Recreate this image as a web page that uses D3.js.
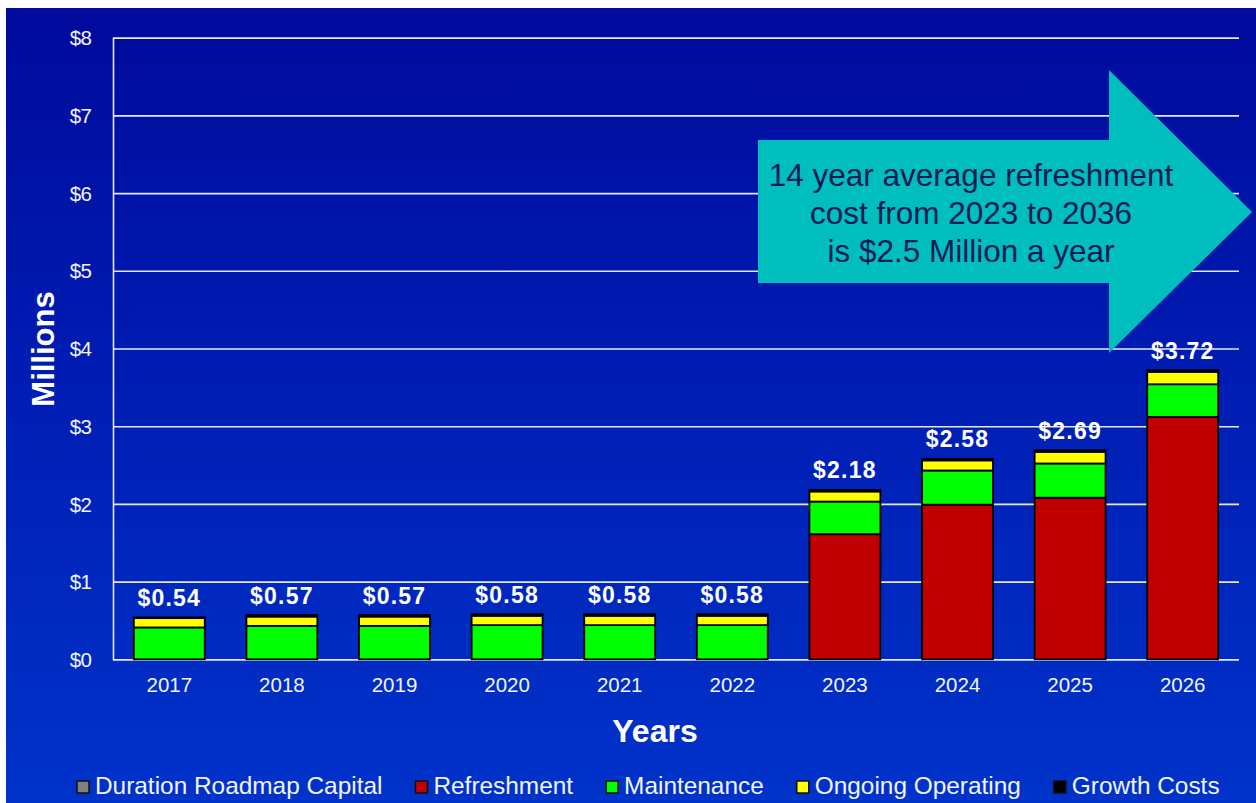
<!DOCTYPE html>
<html>
<head>
<meta charset="utf-8">
<script src="https://cdn.jsdelivr.net/npm/d3@7"></script>
<style>
  html, body { margin: 0; padding: 0; background: #ffffff; }
  svg { display: block; }
  text { font-family: "Liberation Sans", Arial, sans-serif; }
</style>
</head>
<body>
<svg id="chart" width="1256" height="803"></svg>
<script>
// ---- data ----
const years = ["2017","2018","2019","2020","2021","2022","2023","2024","2025","2026"];
const durationCapital = [0,0,0,0,0,0,0,0,0,0];
const refreshment = [0,0,0,0,0,0,1.61,1.99,2.08,3.12];
const maintenance = [0.41,0.43,0.43,0.44,0.44,0.44,0.42,0.44,0.44,0.42];
const ongoingOperating = [0.12,0.12,0.12,0.12,0.12,0.12,0.13,0.13,0.15,0.16];
const growthCosts = [0.01,0.02,0.02,0.02,0.02,0.02,0.02,0.02,0.02,0.02];
const totalLabels = ["$0.54","$0.57","$0.57","$0.58","$0.58","$0.58","$2.18","$2.58","$2.69","$3.72"];
const yTicks = [0,1,2,3,4,5,6,7,8];
const seriesNames = ["Duration Roadmap Capital","Refreshment","Maintenance","Ongoing Operating","Growth Costs"];
const seriesColors = ["#808080","#C00000","#00FF00","#FFFF00","#000000"];
const annotationLines = ["14 year average refreshment","cost from 2023 to 2036","is $2.5 Million a year"];

// ---- layout ----
const W = 1256, H = 803;
const plot = {left: 113, right: 1239, top: 37.7, bottom: 659.3};
const svg = d3.select("#chart");

// background with gradient
const defs = svg.append("defs");
const grad = defs.append("linearGradient").attr("id","bg").attr("x1",0).attr("y1",0).attr("x2",0).attr("y2",1);
grad.append("stop").attr("offset","0%").attr("stop-color","#000A9C");
grad.append("stop").attr("offset","50%").attr("stop-color","#001EB4");
grad.append("stop").attr("offset","100%").attr("stop-color","#0033CA");
svg.append("rect").attr("x",6).attr("y",8).attr("width",W-6).attr("height",H-8).attr("fill","url(#bg)");

const table = years.map((y,i)=>({
  year:y,
  "Duration Roadmap Capital":durationCapital[i],
  "Refreshment":refreshment[i],
  "Maintenance":maintenance[i],
  "Ongoing Operating":ongoingOperating[i],
  "Growth Costs":growthCosts[i],
  label: totalLabels[i]
}));

const x = d3.scaleBand().domain(years).range([plot.left, plot.right]).paddingInner(0.37).paddingOuter(0.185);
const y = d3.scaleLinear().domain([0,8]).range([plot.bottom, plot.top]);
const color = d3.scaleOrdinal().domain(seriesNames).range(seriesColors);

// gridlines
const yAxis = d3.axisLeft(y).tickValues(yTicks).tickSize(-(plot.right-plot.left)).tickFormat(d=>"$"+d);
const gy = svg.append("g").attr("transform",`translate(${plot.left},0)`).call(yAxis);
gy.attr("font-size",null).attr("font-family",null);
gy.select(".domain").attr("stroke","#E4E8F8").attr("stroke-width",1.6);
gy.selectAll(".tick line").attr("stroke","#E4E8F8").attr("stroke-width",1.6);
gy.selectAll(".tick text").attr("x",-22).attr("fill","#F2F4FF").attr("font-size",20.5)
  .attr("letter-spacing","-0.8px").attr("dy","0.35em");

// arrow annotation (on top of gridlines)
const arrowPts = [[758,140],[1109,140],[1109,70],[1252,212],[1109,353],[1109,283],[758,283]];
svg.append("path").attr("d", d3.line()(arrowPts) + "Z").attr("fill","#00BDBE");
const at = svg.append("text").attr("text-anchor","middle").attr("fill","#0B1B55")
  .attr("font-size",31.5);
annotationLines.forEach((t,i)=>{
  at.append("tspan").attr("x",971).attr("y",186 + i*37.8).text(t);
});

// stacked bars
const stack = d3.stack().keys(seriesNames);
const stacked = stack(table);
const gBars = svg.append("g");
stacked.forEach(s=>{
  gBars.selectAll(null).data(s.filter(d=>d[1]-d[0]>0)).join("rect")
    .attr("x",d=>x(d.data.year))
    .attr("width",x.bandwidth())
    .attr("y",d=>y(d[1]))
    .attr("height",d=>y(d[0])-y(d[1]))
    .attr("fill",color(s.key))
    .attr("stroke","#000")
    .attr("stroke-width",1.8);
});

// total labels
svg.append("g").selectAll("text").data(table).join("text")
  .attr("x",d=>x(d.year)+x.bandwidth()/2)
  .attr("y",d=>y(d["Refreshment"]+d["Maintenance"]+d["Ongoing Operating"]+d["Growth Costs"]) - 11.5)
  .attr("text-anchor","middle").attr("fill","#FFFFFF").attr("font-weight","bold")
  .attr("font-size",23).attr("letter-spacing","1.2px")
  .text(d=>d.label);

// x axis labels
const xAxis = d3.axisBottom(x).tickSize(0).tickPadding(0);
const gx = svg.append("g").attr("transform",`translate(0,${plot.bottom})`).call(xAxis);
gx.attr("font-size",null).attr("font-family",null);
gx.select(".domain").remove();
gx.selectAll(".tick text").attr("y",32.5).attr("dy",0).attr("fill","#F2F4FF").attr("font-size",20.5);

// axis titles
svg.append("text").attr("x",655).attr("y",741.5).attr("text-anchor","middle")
  .attr("fill","#FFFFFF").attr("font-weight","bold").attr("font-size",32).text("Years");
svg.append("text").attr("transform","translate(54,349) rotate(-90)").attr("text-anchor","middle")
  .attr("fill","#FFFFFF").attr("font-weight","bold").attr("font-size",31).text("Millions");

// legend
const lg = svg.append("g");
let lx = 77;
seriesNames.forEach((name,i)=>{
  lg.append("rect").attr("x",lx).attr("y",781).attr("width",12).attr("height",12)
    .attr("fill",seriesColors[i]).attr("stroke","#111").attr("stroke-width",1.5);
  const t = lg.append("text").attr("x",lx+18).attr("y",793.5).attr("fill","#F2F4FF")
    .attr("font-size",24.4).text(name);
  lx = lx + 18 + t.node().getComputedTextLength() + 33;
});
</script>
</body>
</html>
